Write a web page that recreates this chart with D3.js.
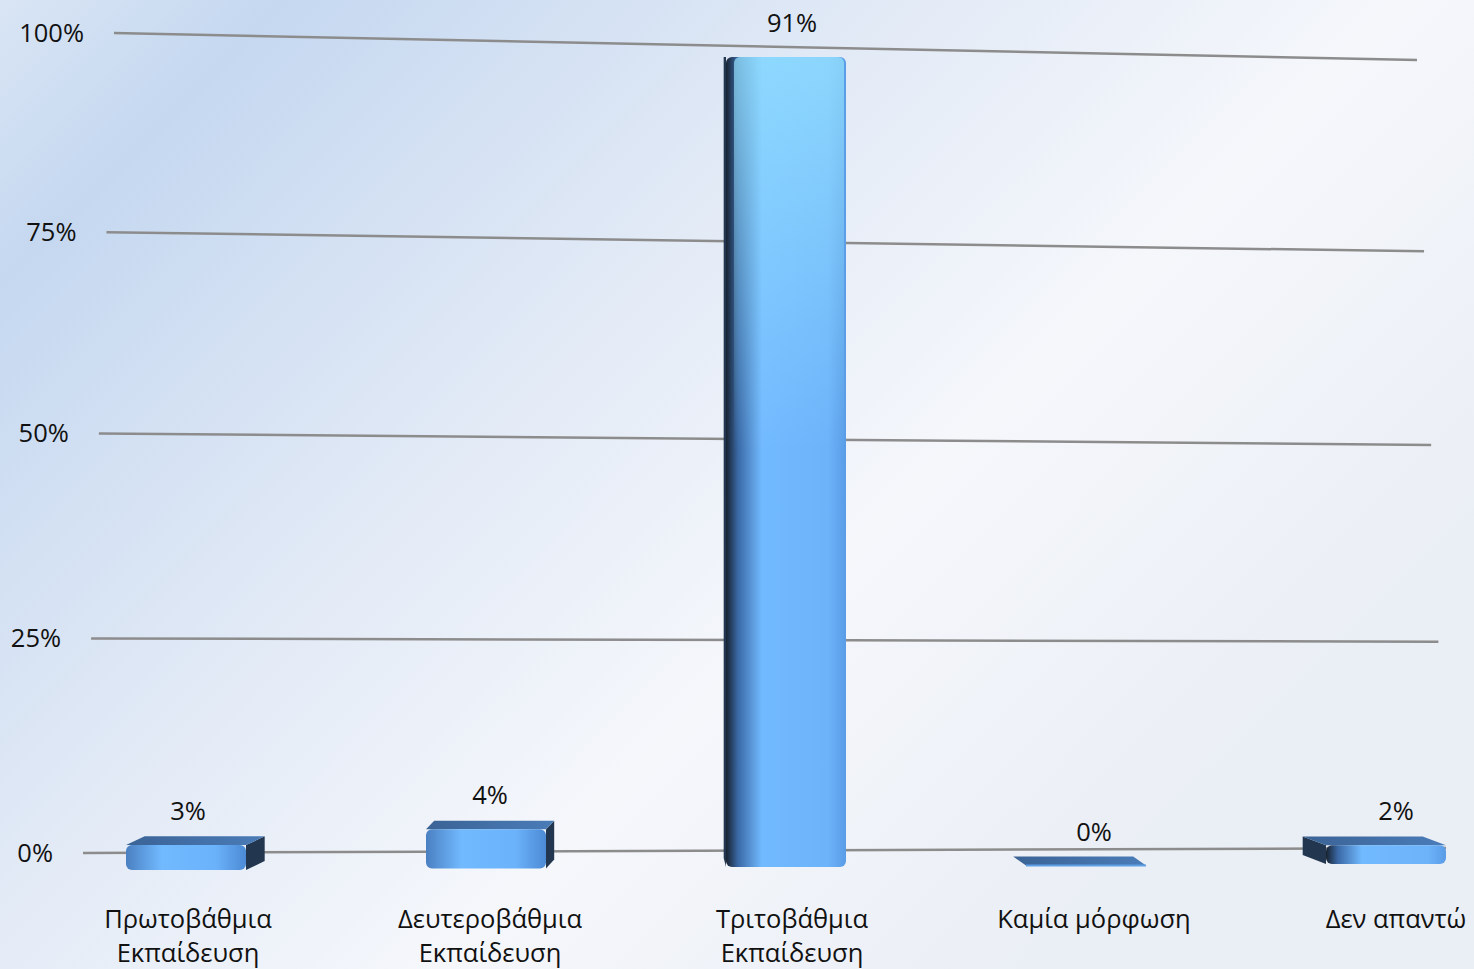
<!DOCTYPE html>
<html>
<head>
<meta charset="utf-8">
<script src="https://cdn.jsdelivr.net/npm/d3@7"></script>
<style>
  body { margin: 0; background: #fff; }
  svg { display: block; }
  text { font-family: "Open Sans", "Noto Sans", sans-serif; fill: #111; }
</style>
</head>
<body>
<svg id="chart"></svg>
<script>
// data
const categories = [
  ["Πρωτοβάθμια", "Εκπαίδευση"],
  ["Δευτεροβάθμια", "Εκπαίδευση"],
  ["Τριτοβάθμια", "Εκπαίδευση"],
  ["Καμία μόρφωση"],
  ["Δεν απαντώ"]
];
const values = [2.8, 4.4, 91, 0, 2.1];
const ticks = [0, 25, 50, 75, 100];

const width = 1474, height = 969;
const svg = d3.select("#chart").attr("width", width).attr("height", height);
const defs = svg.append("defs");

// background gradient
const bg = defs.append("linearGradient").attr("id", "bg")
  .attr("gradientUnits", "userSpaceOnUse")
  .attr("x1", 0).attr("y1", 0).attr("x2", 1000).attr("y2", 1000);
[[0, "#d9e5f4"], [0.14, "#c5d8f0"], [0.45, "#e2eaf6"], [0.7, "#f5f7fb"], [1, "#eaeef5"]]
  .forEach(([o, c]) => bg.append("stop").attr("offset", o).attr("stop-color", c));
svg.append("rect").attr("width", width).attr("height", height).attr("fill", "url(#bg)");

// front face gradients
const addGrad = (id, stops) => {
  const g = defs.append("linearGradient").attr("id", id)
    .attr("x1", 0).attr("y1", 0).attr("x2", 1).attr("y2", 0);
  stops.forEach(([o, c]) => g.append("stop").attr("offset", o).attr("stop-color", c));
};
addGrad("frontR", [[0, "#4a80c2"], [0.3, "#72baff"], [0.75, "#6ab2fa"], [1, "#4c8ad4"]]);
addGrad("frontL", [[0, "#18222f"], [0.1, "#3a69a6"], [0.3, "#72baff"], [0.85, "#6cb3fa"], [1, "#5a9ce6"]]);
addGrad("topFace", [[0, "#3b6396"], [1, "#4a7cb8"]]);

const shine = defs.append("linearGradient").attr("id", "shine")
  .attr("gradientUnits", "userSpaceOnUse")
  .attr("x1", 0).attr("y1", 50).attr("x2", 0).attr("y2", 450);
shine.append("stop").attr("offset", 0).attr("stop-color", "#9ae6ff").attr("stop-opacity", 0.7);
shine.append("stop").attr("offset", 1).attr("stop-color", "#9ae6ff").attr("stop-opacity", 0);

// back wall scales (perspective approximated with a pow scale)
const yLeft = d3.scalePow().exponent(0.967).domain([0, 100]).range([853, 33]);
const yRight = d3.scalePow().exponent(0.967).domain([0, 100]).range([848, 60]);
const xLeft = d3.scalePow().exponent(0.967).domain([0, 100]).range([83, 114]);
const xRight = d3.scalePow().exponent(0.967).domain([0, 100]).range([1446, 1417]);

// gridlines
svg.append("g").selectAll("line").data(ticks).join("line")
  .attr("x1", d => xLeft(d)).attr("y1", d => yLeft(d))
  .attr("x2", d => xRight(d)).attr("y2", d => yRight(d))
  .attr("stroke", "#8c8c8c").attr("stroke-width", 2.5);

// tick labels
svg.append("g").selectAll("text").data(ticks).join("text")
  .attr("x", d => xLeft(d) - 30).attr("y", d => yLeft(d))
  .attr("text-anchor", "end").attr("dy", "0.35em")
  .attr("font-size", 25.5)
  .text(d => d + "%");

// front plane scales
const x = d3.scalePoint().domain(d3.range(categories.length)).range([188, 1396]);
const barX = d3.scalePoint().domain(d3.range(categories.length)).range([186, 1386]);
const floor = d3.scaleLinear().domain([186, 1386]).range([870, 864]);
const h = d3.scaleLinear().domain([0, 100]).range([0, 890]);
const barW = 120, depthY = -9, vpX = 720, k = 0.035;

const bars = svg.append("g");
values.forEach((v, i) => {
  const cx = barX(i);
  const x0 = cx - barW / 2, x1 = cx + barW / 2;
  const yb = floor(cx), yt = yb - h(v);
  const dx = k * (vpX - cx);
  const dy = depthY * Math.max(0, 1 - v / 90); // top face flattens near eye level
  const side = dx > 0
    ? [[x1, yt], [x1 + dx, yt + dy], [x1 + dx, yb + depthY], [x1, yb]]
    : [[x0, yt], [x0 + dx, yt + dy], [x0 + dx, yb + depthY], [x0, yb]];
  bars.append("polygon").attr("points", side.join(" ")).attr("fill", "#22374f");
  if (dy < 0) {
    bars.append("polygon")
      .attr("points", [[x0, yt], [x1, yt], [x1 + dx, yt + dy], [x0 + dx, yt + dy]].join(" "))
      .attr("fill", "url(#topFace)");
  }
  if (v > 0) {
    bars.append("rect").attr("x", x0).attr("y", yt).attr("width", barW).attr("height", yb - yt)
      .attr("rx", 6).attr("fill", dx > 0 ? "url(#frontR)" : "url(#frontL)");
    bars.append("rect").attr("x", x0 + 8).attr("y", yt).attr("width", barW - 10).attr("height", yb - yt)
      .attr("rx", 6).attr("fill", "url(#shine)");
  } else {
    bars.append("line").attr("x1", x0).attr("x2", x1).attr("y1", yb).attr("y2", yb)
      .attr("stroke", "#5f9fe6").attr("stroke-width", 2);
  }
});

// value labels
svg.append("g").selectAll("text").data(values).join("text")
  .attr("x", (d, i) => x(i))
  .attr("y", (d, i) => floor(barX(i)) - h(d) + depthY - 16)
  .attr("text-anchor", "middle")
  .attr("font-size", 25.5)
  .text(d => d3.format(".0f")(d) + "%");

// category labels
const cat = svg.append("g").selectAll("text").data(categories).join("text")
  .attr("x", (d, i) => x(i)).attr("y", 928)
  .attr("text-anchor", "middle")
  .attr("font-size", 25.5);
cat.selectAll("tspan").data(d => d).join("tspan")
  .attr("x", function() { return this.parentNode.getAttribute("x"); })
  .attr("dy", (d, j) => j === 0 ? 0 : 34)
  .text(d => d);
</script>
</body>
</html>
